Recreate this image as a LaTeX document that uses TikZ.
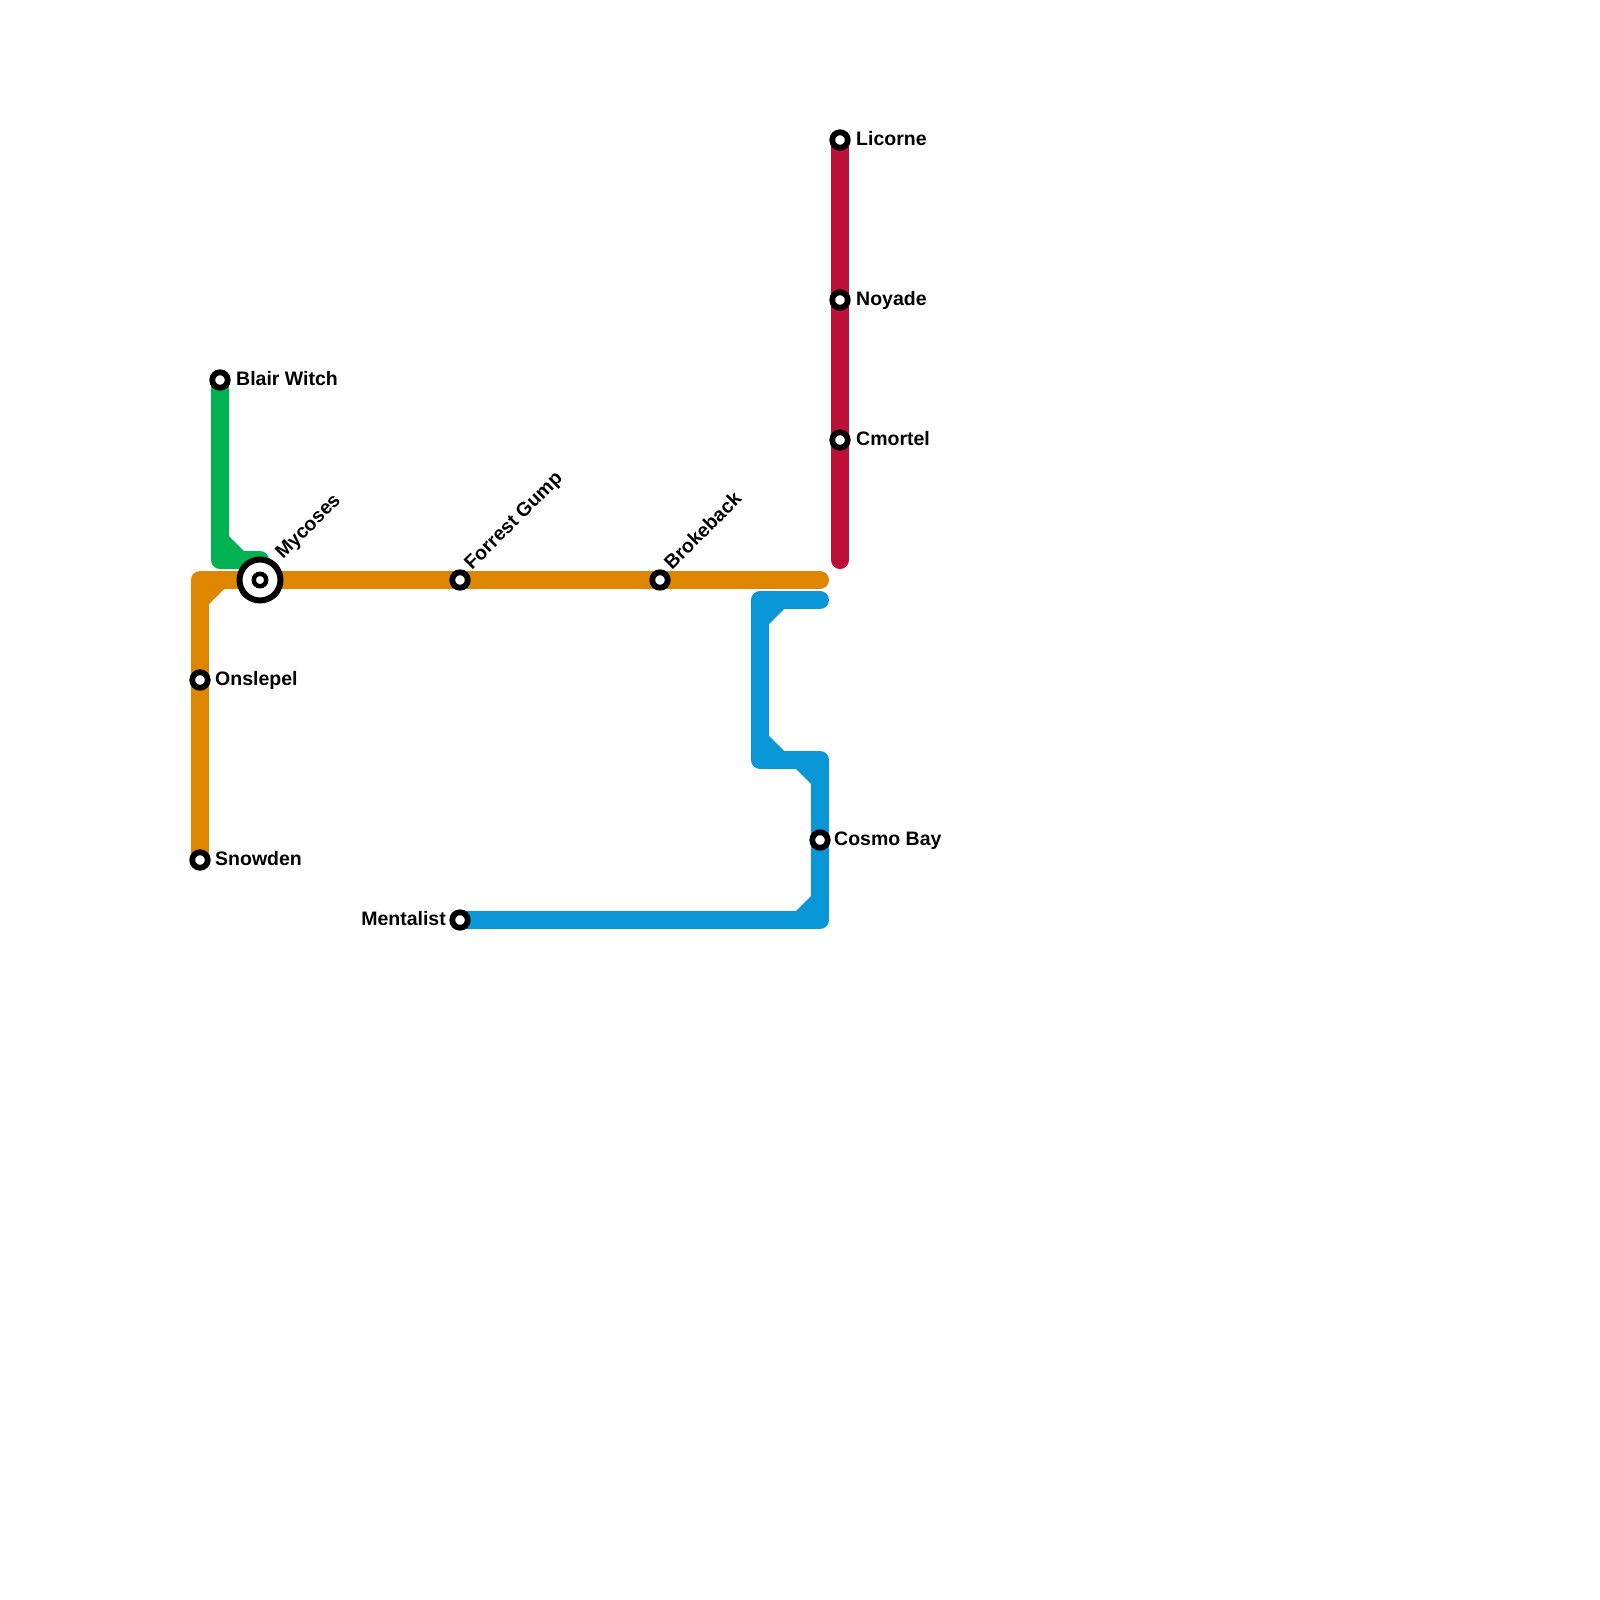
\documentclass[tikz,border=0pt]{standalone}
\usepackage{fontspec}
\setmainfont{Liberation Sans}
\definecolor{lorange}{HTML}{DF8600}
\definecolor{lgreen}{HTML}{00B251}
\definecolor{lblue}{HTML}{0896D7}
\definecolor{lred}{HTML}{BD1038}
\begin{document}
\begin{tikzpicture}[x=1pt,y=-1pt,
  metroline/.style={line width=18pt, line cap=round, line join=round},
  station/.style={circle, draw=black, fill=white, line width=5.8pt, minimum size=15.5pt, inner sep=0pt},
  hubouter/.style={circle, draw=black, fill=white, line width=6pt, minimum size=41pt, inner sep=0pt},
  hubinner/.style={circle, draw=black, fill=white, line width=4.5pt, minimum size=12.4pt, inner sep=0pt},
  lbl/.style={font=\bfseries\fontsize{19.5}{23}\selectfont, inner sep=0pt, text=black}]
\fill[white] (0,0) rectangle (1600,1600);
\useasboundingbox (0,0) rectangle (1600,1600);
% coordinates
\coordinate (snowden) at (200,860);
\coordinate (onslepel) at (200,680);
\coordinate (oc) at (200,580);
\coordinate (mycoses) at (260,580);
\coordinate (forrest) at (460,580);
\coordinate (brokeback) at (660,580);
\coordinate (oend) at (820,580);
\coordinate (blair) at (220,380);
\coordinate (gc) at (220,560);
\coordinate (gend) at (260,560);
\coordinate (licorne) at (840,140);
\coordinate (noyade) at (840,300);
\coordinate (cmortel) at (840,440);
\coordinate (rend) at (840,560);
\coordinate (b1) at (820,600);
\coordinate (b2) at (760,600);
\coordinate (b3) at (760,760);
\coordinate (b4) at (820,760);
\coordinate (cosmo) at (820,840);
\coordinate (b5) at (820,920);
\coordinate (mentalist) at (460,920);
% lines
\draw[metroline, lgreen] (blair) -- (gc) -- (gend);
\fill[lgreen] (229,551) -- (229,536) -- (244,551) -- cycle;
\draw[metroline, lorange] (snowden) -- (onslepel) -- (oc) -- (mycoses) -- (forrest) -- (brokeback) -- (oend);
\fill[lorange] (209,589) -- (224,589) -- (209,604) -- cycle;
\draw[metroline, lred] (licorne) -- (noyade) -- (cmortel) -- (rend);
\draw[metroline, lblue] (b1) -- (b2) -- (b3) -- (b4) -- (cosmo) -- (b5) -- (mentalist);
\fill[lblue] (769,609) -- (784,609) -- (769,624) -- cycle;
\fill[lblue] (769,751) -- (769,736) -- (784,751) -- cycle;
\fill[lblue] (811,769) -- (796,769) -- (811,784) -- cycle;
\fill[lblue] (811,911) -- (811,896) -- (796,911) -- cycle;
% stations
\node[station] (sBlair) at (blair) {};
\node[station] (sOnslepel) at (onslepel) {};
\node[station] (sSnowden) at (snowden) {};
\node[station] (sForrest) at (forrest) {};
\node[station] (sBrokeback) at (brokeback) {};
\node[station] (sLicorne) at (licorne) {};
\node[station] (sNoyade) at (noyade) {};
\node[station] (sCmortel) at (cmortel) {};
\node[station] (sCosmo) at (cosmo) {};
\node[station] (sMentalist) at (mentalist) {};
\node[hubouter] (sMycoses) at (mycoses) {};
\node[hubinner] (sMycosesIn) at (mycoses) {};
% labels
\node[lbl, anchor=base west] (tBlair) at ([shift={(16,5.5)}]blair) {Blair Witch};
\node[lbl, anchor=base west] (tOnslepel) at ([shift={(15,5.5)}]onslepel) {Onslepel};
\node[lbl, anchor=base west] (tSnowden) at ([shift={(15,5.5)}]snowden) {Snowden};
\node[lbl, anchor=base west] (tLicorne) at ([shift={(16,5.5)}]licorne) {Licorne};
\node[lbl, anchor=base west] (tNoyade) at ([shift={(16,5.5)}]noyade) {Noyade};
\node[lbl, anchor=base west] (tCmortel) at ([shift={(16,5.5)}]cmortel) {Cmortel};
\node[lbl, anchor=base west] (tCosmo) at ([shift={(14,5.5)}]cosmo) {Cosmo Bay};
\node[lbl, anchor=base east] (tMentalist) at ([shift={(-14,5.5)}]mentalist) {Mentalist};
\node[lbl, anchor=base west, rotate=45] (tForrest) at ([shift={(12,-9.3)}]forrest) {Forrest Gump};
\node[lbl, anchor=base west, rotate=45] (tBrokeback) at ([shift={(12,-9.3)}]brokeback) {Brokeback};
\node[lbl, anchor=base west, rotate=45] (tMycoses) at ([shift={(23,-20)}]mycoses) {Mycoses};
\end{tikzpicture}
\end{document}
